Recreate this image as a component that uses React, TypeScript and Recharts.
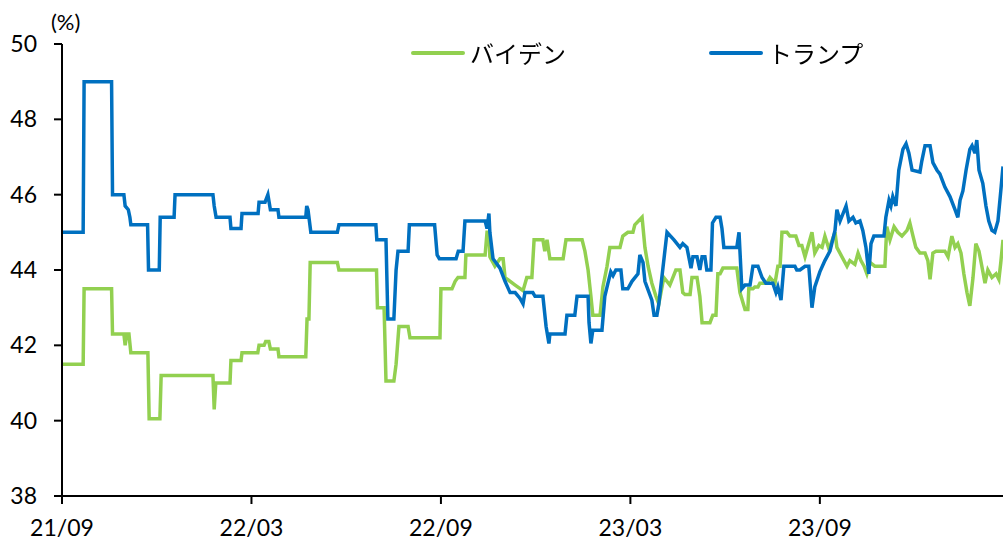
import { LineChart, Line, XAxis, YAxis, Legend } from 'recharts';

// 横軸は 21/09 からの経過月数
const tickMonths = [0, 6, 12, 18, 24];
const tickLabels = ['21/09', '22/03', '22/09', '23/03', '23/09'];
const yTicks = [38, 40, 42, 44, 46, 48, 50];
const seriesNames = ['バイデン', 'トランプ'];

// [経過月, 支持率(%)]
const bidenSeries: [number, number][] = [
  [0, 41.5], [0.67, 41.5], [0.7, 43.5], [1.57, 43.5], [1.6, 42.3], [1.96, 42.3],
  [2.0, 42.0], [2.05, 42.3], [2.12, 42.3], [2.18, 41.8], [2.72, 41.8], [2.76, 40.05],
  [3.1, 40.05], [3.14, 41.2], [4.78, 41.2], [4.82, 40.3], [4.87, 41.0], [5.32, 41.0],
  [5.35, 41.6], [5.67, 41.6], [5.7, 41.8], [6.2, 41.8], [6.24, 42.0], [6.4, 42.0],
  [6.45, 42.1], [6.55, 42.1], [6.6, 41.9], [6.84, 41.9], [6.87, 41.7], [7.72, 41.7],
  [7.76, 42.7], [7.82, 42.7], [7.86, 44.2], [8.72, 44.2], [8.77, 44.0], [9.96, 44.0],
  [9.99, 43.0], [10.2, 43.0], [10.26, 41.05], [10.51, 41.05], [10.58, 41.5], [10.67, 42.5],
  [10.96, 42.5], [11.02, 42.2], [11.97, 42.2], [12.0, 43.5], [12.35, 43.5], [12.45, 43.7],
  [12.54, 43.8], [12.76, 43.8], [12.79, 44.4], [13.4, 44.4], [13.46, 45.0], [13.52, 45.0],
  [13.55, 44.35], [13.71, 44.1], [13.87, 44.3], [13.97, 44.3], [14.03, 43.8], [14.35, 43.6],
  [14.6, 43.45], [14.72, 43.8], [14.88, 43.8], [14.95, 44.8], [15.23, 44.8], [15.29, 44.5],
  [15.36, 44.8], [15.45, 44.3], [15.87, 44.3], [15.96, 44.8], [16.47, 44.8], [16.56, 44.5],
  [16.66, 44.0], [16.75, 43.3], [16.81, 42.8], [17.04, 42.8], [17.13, 43.55], [17.26, 44.1],
  [17.35, 44.6], [17.67, 44.6], [17.76, 44.9], [17.92, 45.0], [18.08, 45.0], [18.14, 45.2],
  [18.37, 45.4], [18.46, 44.6], [18.56, 44.1], [18.68, 43.65], [18.81, 43.3], [18.9, 43.1],
  [19.06, 43.8], [19.25, 43.6], [19.44, 44.0], [19.57, 44.0], [19.66, 43.4], [19.73, 43.35],
  [19.89, 43.35], [19.95, 43.8], [20.11, 43.8], [20.2, 43.3], [20.27, 42.6], [20.52, 42.6],
  [20.61, 42.8], [20.71, 42.8], [20.77, 43.9], [20.84, 43.9], [20.93, 44.05], [21.37, 44.05],
  [21.47, 43.4], [21.63, 42.95], [21.72, 42.95], [21.75, 43.5], [21.88, 43.5], [21.94, 43.55],
  [22.04, 43.55], [22.1, 43.65], [22.32, 43.65], [22.42, 43.8], [22.58, 43.65], [22.67, 44.1],
  [22.74, 44.1], [22.8, 45.0], [22.96, 45.0], [23.05, 44.9], [23.24, 44.9], [23.34, 44.65],
  [23.43, 44.65], [23.53, 44.35], [23.75, 45.0], [23.84, 44.45], [23.97, 44.65], [24.07, 44.6],
  [24.16, 44.9], [24.29, 44.55], [24.48, 45.0], [24.54, 44.6], [24.7, 44.35], [24.86, 44.1],
  [24.95, 44.25], [25.11, 44.15], [25.21, 44.45], [25.3, 44.25], [25.4, 44.1], [25.49, 43.9],
  [25.59, 44.2], [25.74, 44.1], [26.06, 44.1], [26.12, 45.15], [26.22, 44.8], [26.35, 45.15],
  [26.47, 45.0], [26.6, 44.9], [26.76, 45.05], [26.85, 45.25], [26.95, 44.9], [27.04, 44.6],
  [27.17, 44.45], [27.33, 44.45], [27.42, 44.25], [27.49, 43.75], [27.58, 44.45], [27.68, 44.5],
  [27.96, 44.5], [28.06, 44.35], [28.18, 44.9], [28.28, 44.6], [28.37, 44.7], [28.47, 44.45],
  [28.56, 43.9], [28.66, 43.4], [28.75, 43.05], [28.85, 43.8], [28.94, 44.7], [29.04, 44.5],
  [29.13, 44.1], [29.23, 43.65], [29.32, 44.0], [29.45, 43.8], [29.58, 43.9], [29.67, 43.75],
  [29.73, 44.2], [29.8, 44.8],
];

const trumpSeries: [number, number][] = [
  [0, 45.0], [0.67, 45.0], [0.7, 49.0], [1.57, 49.0], [1.6, 46.0], [1.96, 46.0],
  [2.0, 45.7], [2.1, 45.6], [2.15, 45.4], [2.18, 45.2], [2.71, 45.2], [2.74, 44.0],
  [3.08, 44.0], [3.11, 45.4], [3.55, 45.4], [3.58, 46.0], [4.78, 46.0], [4.82, 45.7],
  [4.88, 45.4], [5.32, 45.4], [5.35, 45.1], [5.67, 45.1], [5.7, 45.5], [6.21, 45.5],
  [6.24, 45.8], [6.43, 45.8], [6.52, 46.0], [6.6, 45.6], [6.84, 45.6], [6.87, 45.4],
  [7.72, 45.4], [7.75, 45.7], [7.79, 45.6], [7.88, 45.0], [8.72, 45.0], [8.77, 45.2],
  [9.94, 45.2], [9.97, 44.8], [10.26, 44.8], [10.32, 42.7], [10.51, 42.7], [10.58, 44.0],
  [10.64, 44.5], [10.96, 44.5], [11.0, 45.2], [11.8, 45.2], [11.88, 44.4], [11.95, 44.3],
  [12.48, 44.3], [12.55, 44.5], [12.7, 44.5], [12.76, 45.3], [13.4, 45.3], [13.46, 45.1],
  [13.52, 45.5], [13.55, 45.0], [13.65, 44.3], [13.87, 44.05], [14.03, 43.7], [14.19, 43.4],
  [14.35, 43.4], [14.5, 43.25], [14.6, 43.1], [14.66, 43.4], [14.91, 43.4], [14.98, 43.3],
  [15.23, 43.3], [15.33, 42.5], [15.42, 42.05], [15.45, 42.3], [15.93, 42.3], [15.99, 42.8],
  [16.24, 42.8], [16.31, 43.3], [16.66, 43.3], [16.69, 42.6], [16.75, 42.05], [16.81, 42.4],
  [17.1, 42.4], [17.19, 43.3], [17.29, 43.65], [17.38, 43.95], [17.45, 43.85], [17.54, 44.0],
  [17.7, 44.0], [17.76, 43.5], [17.92, 43.5], [18.05, 43.7], [18.24, 43.9], [18.3, 44.4],
  [18.4, 44.2], [18.46, 43.7], [18.68, 43.2], [18.75, 42.8], [18.84, 42.8], [18.9, 43.1],
  [19.16, 45.0], [19.38, 44.8], [19.57, 44.6], [19.66, 44.7], [19.79, 44.6], [19.92, 44.05],
  [19.98, 44.35], [20.11, 44.35], [20.2, 44.0], [20.27, 44.35], [20.36, 44.35], [20.42, 44.0],
  [20.55, 44.0], [20.6, 45.25], [20.71, 45.4], [20.84, 45.4], [20.9, 45.1], [20.96, 44.6],
  [21.37, 44.6], [21.44, 45.0], [21.53, 43.5], [21.63, 43.6], [21.79, 43.6], [21.88, 44.1],
  [22.04, 44.1], [22.17, 43.8], [22.29, 43.65], [22.51, 43.65], [22.61, 43.4], [22.67, 43.55],
  [22.77, 43.2], [22.86, 44.1], [23.21, 44.1], [23.27, 44.0], [23.37, 44.0], [23.53, 44.1],
  [23.65, 44.1], [23.75, 43.0], [23.84, 43.55], [24.0, 43.95], [24.16, 44.25], [24.32, 44.5],
  [24.48, 45.05], [24.54, 45.6], [24.64, 45.3], [24.83, 45.7], [24.92, 45.3], [25.05, 45.4],
  [25.14, 45.25], [25.27, 45.3], [25.36, 45.05], [25.46, 44.6], [25.55, 43.9], [25.62, 44.7],
  [25.71, 44.9], [26.03, 44.9], [26.09, 45.4], [26.19, 45.85], [26.25, 45.7], [26.31, 45.95],
  [26.41, 45.7], [26.5, 46.65], [26.63, 47.2], [26.73, 47.35], [26.82, 47.1], [26.92, 46.65],
  [27.17, 46.6], [27.23, 46.9], [27.33, 47.3], [27.49, 47.3], [27.58, 46.85], [27.71, 46.65],
  [27.8, 46.55], [27.96, 46.2], [28.12, 45.95], [28.28, 45.6], [28.37, 45.4], [28.44, 45.85],
  [28.53, 46.1], [28.63, 46.65], [28.75, 47.2], [28.82, 47.3], [28.91, 47.1], [28.97, 47.45],
  [29.04, 46.65], [29.16, 46.3], [29.26, 45.7], [29.35, 45.3], [29.45, 45.05], [29.54, 45.0],
  [29.64, 45.3], [29.73, 46.1], [29.8, 46.75],
];

const bidenData = bidenSeries.map(([m, v]) => ({ m, v }));
const trumpData = trumpSeries.map(([m, v]) => ({ m, v }));

const font = 'Lato, "Noto Sans", sans-serif';

function renderLegend(props: any) {
  const payload = [...(props.payload || [])].sort(
    (a: any, b: any) => seriesNames.indexOf(a.value) - seriesNames.indexOf(b.value)
  );
  return (
    <div style={{ display: 'flex', fontFamily: '"Noto Sans CJK JP", sans-serif' }}>
      {payload.map((entry: any) => (
        <div key={entry.value} style={{ display: 'flex', alignItems: 'center', width: 298 }}>
          <div style={{ width: 54, height: 4, background: entry.color, borderRadius: 2 }} />
          <span style={{ marginLeft: 5, fontSize: 24, color: '#000', lineHeight: '30px' }}>{entry.value}</span>
        </div>
      ))}
    </div>
  );
}

export default function App() {
  return (
    <div style={{ position: 'fixed', left: 0, top: 0, width: 1003, height: 542, background: '#fff' }}>
      <div style={{ position: 'absolute', left: 51, top: 8, fontSize: 22, fontFamily: font, color: '#000' }}>(%)</div>
      <LineChart width={1003} height={542} margin={{ top: 44, right: 0, bottom: 16, left: 0 }}>
        <XAxis
          dataKey="m"
          type="number"
          domain={[0, 29.8]}
          allowDataOverflow
          ticks={tickMonths}
          interval={0}
          tickFormatter={(v: number) => tickLabels[tickMonths.indexOf(v)]}
          height={30}
          tickSize={8}
          tickMargin={16}
          axisLine={{ stroke: '#000', strokeWidth: 2 }}
          tickLine={{ stroke: '#000', strokeWidth: 2 }}
          tick={{ fill: '#000', fontSize: 23, fontFamily: font }}
        />
        <YAxis
          domain={[38, 50]}
          ticks={yTicks}
          interval={0}
          width={62}
          tickSize={8}
          tickMargin={17}
          axisLine={{ stroke: '#000', strokeWidth: 2 }}
          tickLine={{ stroke: '#000', strokeWidth: 2 }}
          tick={{ fill: '#000', fontSize: 23, fontFamily: font }}
        />
        <Legend
          layout="horizontal"
          verticalAlign="middle"
          align="center"
          content={renderLegend}
          wrapperStyle={{ position: 'absolute', top: 38, left: 411, width: 600 }}
        />
        <Line
          data={bidenData}
          dataKey="v"
          name="バイデン"
          type="linear"
          stroke="#92D050"
          strokeWidth={3.5}
          dot={false}
          activeDot={false}
          isAnimationActive={false}
        />
        <Line
          data={trumpData}
          dataKey="v"
          name="トランプ"
          type="linear"
          stroke="#0070C0"
          strokeWidth={3.5}
          dot={false}
          activeDot={false}
          isAnimationActive={false}
        />
      </LineChart>
    </div>
  );
}
